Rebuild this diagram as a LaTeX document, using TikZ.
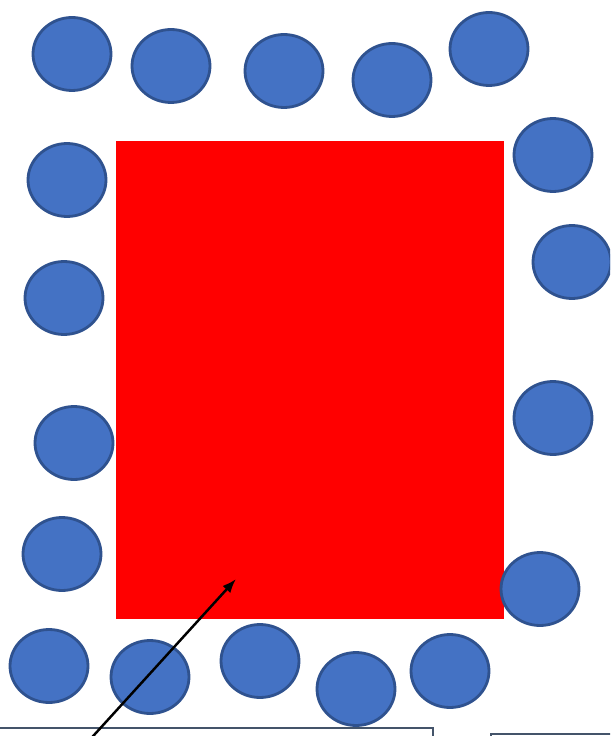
\documentclass[tikz,border=0pt]{standalone}
\usepackage{tikz}
\usetikzlibrary{shapes.geometric, arrows.meta}

\definecolor{dotfill}{HTML}{4472C4}
\definecolor{dotline}{HTML}{2F528F}
\definecolor{boxline}{HTML}{44546A}

\tikzset{
    dot/.style={ellipse, fill=dotfill, draw=dotline, line width=1.6pt,
        minimum width=1.56cm, minimum height=1.46cm, inner sep=0pt},
    textbox/.style={draw=boxline, line width=1.4pt, fill=white, inner sep=0pt}
}

\begin{document}
\begin{tikzpicture}[x=0.02cm, y=-0.02cm]
    \useasboundingbox (0,0) rectangle (610,736);
    \clip (0,0) rectangle (610,736);
    % red block
    \fill[red] (116,141) rectangle (504,619);
    % top row
    \node[dot] (t1) at (72,54) {};
    \node[dot] (t2) at (171,66) {};
    \node[dot] (t3) at (284,71) {};
    \node[dot] (t4) at (392,80) {};
    \node[dot] (t5) at (489,49) {};
    % right side
    \node[dot] (r1) at (553,155) {};
    \node[dot] (r2) at (572,262) {};
    \node[dot] (r3) at (553,418) {};
    \node[dot] (r4) at (540,589) {};
    % left side
    \node[dot] (l1) at (67,180) {};
    \node[dot] (l2) at (64,298) {};
    \node[dot] (l3) at (74,443) {};
    \node[dot] (l4) at (62,554) {};
    % bottom row
    \node[dot] (b1) at (49,666) {};
    \node[dot] (b2) at (150,677) {};
    \node[dot] (b3) at (260,661) {};
    \node[dot] (b4) at (356,689) {};
    \node[dot] (b5) at (450,671) {};
    % boxes below, cut off
    \draw[textbox] (-10,728) rectangle (433,800);
    \draw[textbox] (491,734) rectangle (640,800);
    % arrow
    \coordinate (tail) at (85,745);
    \coordinate (tip) at (236,579);
    \draw[-{Latex[length=8pt, width=6pt]}, line width=1.4pt] (tail) -- (tip);
\end{tikzpicture}
\end{document}
